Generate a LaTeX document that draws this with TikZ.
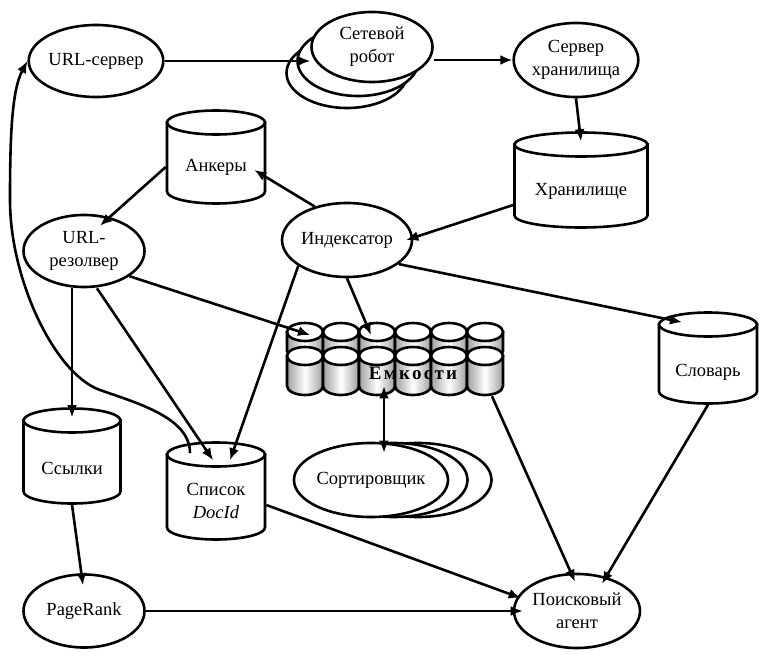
\documentclass[tikz,border=0pt]{standalone}
\usepackage{fontspec}
\setmainfont{Liberation Serif}
\usetikzlibrary{shapes.geometric,arrows.meta}

\begin{document}
\begin{tikzpicture}[x=1pt,y=-1pt,font=\fontsize{18.5}{23}\selectfont,
  line width=2.6pt, >={Latex[length=12pt,width=10pt]},
  proc/.style={draw, ellipse, fill=white, inner sep=0pt, align=center, minimum width=121pt, minimum height=72pt},
  drumbox/.style={inner sep=0pt, align=center},
  bin/.style={draw, left color=gray!75, right color=gray!75, middle color=white},
  spot/.style={inner sep=0pt, minimum width=36pt}]
\useasboundingbox (0,0) rectangle (769,661);

% processes
\node[proc] (url) at (96,61) {URL-сервер};
\node[proc, minimum height=70pt] (robotC) at (347,73) {};
\node[proc, minimum height=70pt] (robotB) at (358,61) {};
\node[proc, minimum height=70pt] (robot) at (372,47) {Сетевой\\робот};
\node[proc, minimum height=74pt] (srv) at (576,60) {Сервер\\хранилища};
\node[proc, minimum width=120pt, minimum height=74pt] (idx) at (347,240) {Индексатор};
\node[proc] (res) at (84,251) {URL-\\резолвер};
\node[proc, minimum width=147pt, minimum height=74pt] (sortC) at (418,480) {};
\node[proc, minimum width=147pt, minimum height=74pt] (sortB) at (394,480) {};
\node[proc, minimum width=147pt, minimum height=74pt] (sort) at (371,480) {Сортировщик};
\node[proc, minimum width=120pt, minimum height=74pt] (agent) at (577,611) {Поисковый\\агент};
\node[proc, minimum height=73pt] (pr) at (84,611) {PageRank};

% stores
\foreach \n/\cx/\cy/\w/\h/\dy/\txt in {store/581/180/133/95/11/Хранилище,
    anch/216/157/98/93/10/Анкеры, dict/708/358/98/91/14/Словарь,
    links/72/456/97/95/12/Ссылки, list/216/491/98/97/10/{Список\\\textit{DocId}}} {
  \filldraw[fill=white] ({\cx-\w/2},{\cy-\h/2+12}) -- ({\cx-\w/2},{\cy+\h/2-12})
    arc[start angle=180, end angle=0, x radius=\w/2, y radius=12] -- ({\cx+\w/2},{\cy-\h/2+12}) -- cycle;
  \filldraw[fill=white] ({\cx},{\cy-\h/2+12}) ellipse [x radius=\w/2, y radius=12];
  \node[drumbox, minimum width=\w, minimum height=\h, label={[yshift=-\dy pt, align=center]center:\txt}] (\n) at (\cx,\cy) {};
}

% barrels
\foreach \i in {1,...,6} {
  \shade[bin] ({251+36*\i},332) -- ({251+36*\i},351) arc[start angle=180, end angle=0, x radius=18, y radius=9] -- ({287+36*\i},332) -- cycle;
  \filldraw[fill=white] ({269+36*\i},332) ellipse [x radius=18, y radius=9];
  \node[spot, minimum height=36pt] (t\i) at ({269+36*\i},341) {};
}
\foreach \i in {1,...,6} {
  \shade[bin] ({251+36*\i},356) -- ({251+36*\i},386) arc[start angle=180, end angle=0, x radius=18, y radius=9] -- ({287+36*\i},356) -- cycle;
  \filldraw[fill=white] ({269+36*\i},356) ellipse [x radius=18, y radius=9];
  \node[spot, minimum height=48pt] (b\i) at ({269+36*\i},371) {};
}
\node[font=\fontsize{19}{23}\selectfont\bfseries\addfontfeatures{LetterSpace=12}] (binlabel) at (413,373) {Емкости};

% connectors
\draw[->] (url.east) -- (url.east -| robot.west);
\draw[->] (srv.west -| robot.east) -- (srv.west);
\draw[->] (srv.south) -- ([yshift=-10pt]store.north);
\draw[->] ([yshift=-25pt]store.west) -- ([xshift=-7pt]idx.east);
\draw[->] (idx.134) -- ([xshift=-12pt,yshift=-13pt]anch.east);
\draw[->] ([yshift=-10pt]anch.west) -- ([xshift=16pt,yshift=-12pt]res.north);
\draw[->] (res.-29) -- ([xshift=5pt,yshift=6pt]t1.center);
\draw[->] (links.north |- res.south) -- ([yshift=-10pt]links.north);
\draw[->] ([xshift=13pt]res.south) -- ([xshift=-3pt,yshift=-19pt]list.north);
\draw[->] (idx.208) -- ([xshift=14pt,yshift=-19pt]list.north);
\draw[->] (idx.south) -- ([xshift=-6pt,yshift=6pt]t3.center);
\draw[->] (idx.-25) -- ([xshift=-26pt,yshift=-11pt]dict.north);
\draw[->] ([xshift=-26pt,yshift=-12pt]list.north) .. controls +(0,-35) and +(40,14) .. (100,390)
  .. controls +(-45,-16) and +(0,80) .. (10,200) .. controls +(0,-60) and +(-16,30) .. (url.west);
\draw[<->] ([xshift=7pt,yshift=10pt]b3.south) -- ([xshift=13pt,yshift=-11pt]sort.north);
\draw[->] ([xshift=7pt]b6.south) -- ([xshift=-2pt,yshift=-9pt]agent.north);
\draw[->] (dict.south) -- ([xshift=25pt,yshift=-11pt]agent.north);
\draw[->] ([yshift=-14pt]list.east) -- ([xshift=8pt,yshift=13pt]agent.west);
\draw[->] (links.south) -- ([xshift=-1pt,yshift=-12pt]pr.north);
\draw[->] (pr.east) -- ([xshift=10pt]agent.west);
\end{tikzpicture}
\end{document}
